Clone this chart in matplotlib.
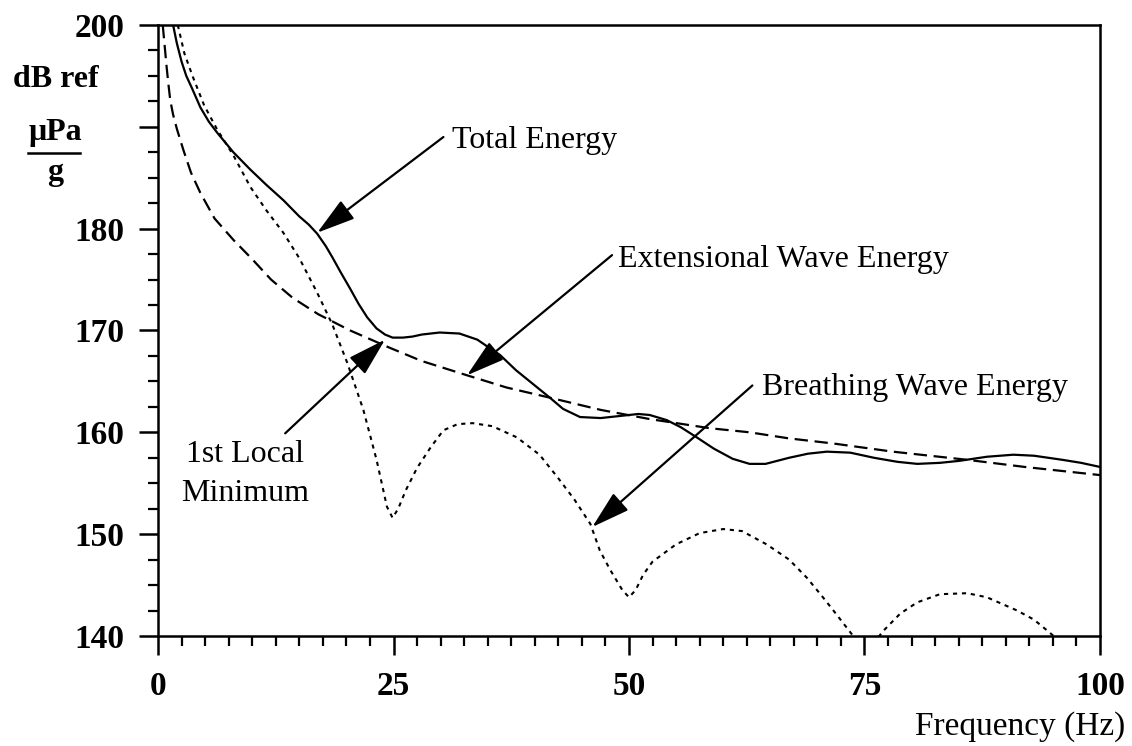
import matplotlib
matplotlib.use("Agg")
import matplotlib.pyplot as plt
from matplotlib.ticker import MultipleLocator, FixedLocator

plt.rcParams['font.family'] = ['Liberation Serif', 'DejaVu Serif']

# --- data (Hz, dB ref uPa/g) ---
total_f = [1.6, 2.0, 2.5, 3.0, 3.6, 4.5, 5.4, 6.3, 8, 9.8, 11.5, 13.3, 15, 16, 16.9,
           17.8, 18.5, 19.4, 20.4, 21.3, 22.2, 23.2, 24.1, 24.9, 26, 27, 28, 29.9, 32,
           33.9, 35, 36.3, 38, 40, 41.6, 43, 44.8, 47, 49, 51, 52.2, 54, 55.5, 57.2,
           59, 61, 62.8, 64.5, 67, 69, 71, 73.5, 76, 78.5, 80.6, 83, 85.1, 88, 90.8,
           93, 96, 98, 100]
total_db = [200, 198.2, 196.4, 195.0, 193.8, 191.9, 190.5, 189.4, 187.5, 185.8, 184.3,
            182.8, 181.2, 180.4, 179.5, 178.3, 177.2, 175.7, 174.1, 172.6, 171.3, 170.2,
            169.6, 169.3, 169.3, 169.4, 169.6, 169.8, 169.7, 169.1, 168.4, 167.6, 166.1,
            164.6, 163.4, 162.3, 161.5, 161.4, 161.6, 161.8, 161.7, 161.2, 160.5, 159.5,
            158.4, 157.4, 156.9, 156.9, 157.5, 157.9, 158.1, 158.0, 157.5, 157.1, 156.9,
            157.0, 157.2, 157.6, 157.8, 157.7, 157.3, 157.0, 156.6]

ext_f = [0.5, 0.7, 0.9, 1.1, 1.3, 1.6, 2, 2.7, 3.5, 4.5, 6, 8, 10, 12, 14.3, 17, 20.4,
         24.6, 28, 32.8, 37, 41.6, 47, 52.2, 58.6, 62.8, 67, 71.7, 78, 85.9, 92, 100]
ext_db = [200, 198, 196, 194.2, 192.6, 191.2, 189.8, 187.7, 185.5, 183.5, 181.0, 178.9,
          177.0, 175.0, 173.2, 171.6, 170.0, 168.3, 167.0, 165.6, 164.4, 163.4, 162.2,
          161.3, 160.4, 160.0, 159.4, 158.9, 158.1, 157.3, 156.6, 155.8]

br_f = [2.1, 2.8, 3.7, 4.9, 6.3, 8, 9.8, 11.5, 13.3, 15, 16.9, 18.5, 20.1, 21.8, 23.2,
        24.3, 24.9, 25.5, 26.3, 27.5, 29, 30.3, 31.8, 33.4, 35.5, 38.1, 40.5, 42.4, 44.2,
        45.9, 46.9, 48, 49.3, 50, 50.7, 51.5, 52.5, 55, 57.5, 60, 62, 64.6, 67, 68.9,
        70.5, 71.7, 73.8, 75.3, 77, 78.8, 80.6, 83, 85.9, 88, 91.2, 93, 94.7, 96.5]
br_db = [200, 197.2, 194.9, 192.1, 189.7, 187.2, 184.1, 181.8, 179.6, 177.1, 173.7,
         170.6, 166.8, 162.2, 157.3, 152.7, 151.6, 152.5, 154.3, 156.5, 158.6, 160.2,
         160.8, 160.9, 160.6, 159.5, 157.8, 155.6, 153.4, 151.0, 148.4, 146.5, 144.5,
         143.8, 144.5, 146.0, 147.3, 149.0, 150.1, 150.5, 150.3, 149.0, 147.5, 145.7,
         143.9, 142.5, 140.0, 138.5, 140.5, 142.2, 143.3, 144.1, 144.2, 143.8, 142.5,
         141.6, 140.3, 138.8]

y_tick_vals = [140, 150, 160, 170, 180, 190, 200]
y_tick_labels = ['140', '150', '160', '170', '180', '', '200']
x_tick_vals = [0, 25, 50, 75, 100]

# (text, x, y) and arrows (tail -> tip) in data units
labels = [("Total Energy", 31.2, 187.9),
          ("Extensional Wave Energy", 48.8, 176.2),
          ("Breathing Wave Energy", 64.1, 163.7)]
arrows = [((30.3, 189.0), (16.9, 179.6)),
          ((48.2, 177.4), (32.8, 165.6)),
          ((63.1, 164.6), (46.1, 150.7)),
          ((13.5, 159.9), (24.1, 169.1))]

fig = plt.figure(figsize=(11.32, 7.46), dpi=100)
ax = fig.add_axes([0.1396, 0.1475, 0.8321, 0.819])

ax.plot(total_f, total_db, color='black', lw=1.6)
ax.plot(ext_f, ext_db, color='black', lw=1.6, linestyle=(0, (6, 3)))
ax.plot(br_f, br_db, color='black', lw=1.5, linestyle=(0, (2, 2.3)))

ax.set_xlim(0, 100)
ax.set_ylim(140, 200)

for s in ax.spines.values():
    s.set_linewidth(1.8)

ax.xaxis.set_major_locator(FixedLocator(x_tick_vals))
ax.xaxis.set_minor_locator(MultipleLocator(2.5))
ax.yaxis.set_major_locator(FixedLocator(y_tick_vals))
ax.yaxis.set_minor_locator(MultipleLocator(2.5))
ax.set_yticklabels(y_tick_labels)

ax.tick_params(axis='both', which='major', direction='out', length=14, width=1.8,
               labelsize=24)
ax.tick_params(axis='both', which='minor', direction='out', length=7, width=1.6)
ax.tick_params(axis='x', which='major', pad=11)
ax.tick_params(axis='y', which='major', pad=10)
for lab in ax.get_xticklabels() + ax.get_yticklabels():
    lab.set_fontweight('bold')

for txt, x, y in labels:
    ax.text(x, y, txt, fontsize=23, ha='left', va='baseline')
ax.text(9.2, 157.1, "1st Local", fontsize=23, ha='center', va='baseline')
ax.text(9.2, 153.3, "Minimum", fontsize=23, ha='center', va='baseline')

for tail, tip in arrows:
    ax.annotate('', xy=tip, xytext=tail,
                arrowprops=dict(arrowstyle='-|>,head_length=1.7,head_width=0.5',
                                mutation_scale=14, color='black', lw=1.6,
                                shrinkA=0, shrinkB=0))

# y-axis unit label
fig.text(56 / 1132, 1 - 87 / 746, "dB ref", fontsize=23, fontweight='bold',
         ha='center', va='baseline')
fig.text(55 / 1132, 1 - 140 / 746, "\u03bcPa", fontsize=23, fontweight='bold',
         ha='center', va='baseline')
fig.add_artist(plt.Line2D([28 / 1132, 80 / 1132], [1 - 153 / 746, 1 - 153 / 746],
                          color='black', lw=1.8))
fig.text(55 / 1132, 1 - 180 / 746, "g", fontsize=23, fontweight='bold',
         ha='center', va='baseline')

fig.text(1125 / 1132, 1 - 735 / 746, "Frequency (Hz)", fontsize=24,
         ha='right', va='baseline')

fig.savefig('out.png', dpi=100)
